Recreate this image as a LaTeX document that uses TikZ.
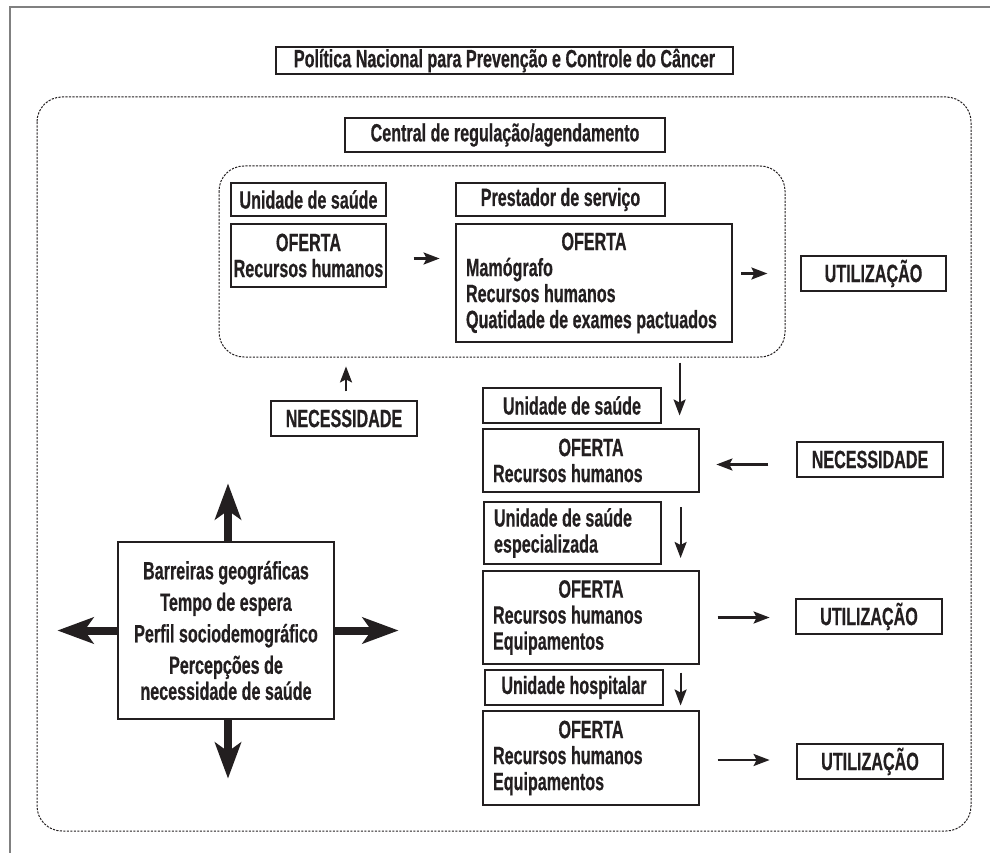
\documentclass[tikz,border=0pt]{standalone}
\usepackage{fontspec}
\setmainfont{Liberation Sans}[FakeStretch=0.645, BoldFeatures={FakeBold=0.5}]
\usetikzlibrary{arrows.meta,calc}
\definecolor{ink}{HTML}{231F20}
\tikzset{
  box/.style={draw=ink, line width=1.2pt, inner sep=0pt, text=ink,
    font=\fontsize{25}{26}\selectfont\bfseries, align=center},
  lbox/.style={box, align=flush left, text width=#1, inner xsep=10pt},
  dashframe/.style={draw=ink, line width=1pt, dash pattern=on 2.2pt off 1.3pt, rounded corners=25pt},
  arr/.style={ink, line width=2.2pt, -{Stealth[length=16pt,width=12pt,inset=3pt]}},
  bigarr/.style={ink, line width=8pt, -{Stealth[length=36pt,width=26pt,inset=9pt]}}
}
\begin{document}
\begin{tikzpicture}[x=1pt,y=-1pt]
  \useasboundingbox (0,0) rectangle (990,853);
  % Page frame
  \draw[black!50, line width=2pt] (990,7) -- (10,7) -- (10,853);

  % Dashed groups
  \draw[dashframe] (37,97) rectangle (971,831);
  \draw[dashframe] (219,166) rectangle (785,357);

  % Top boxes
  \node[box, minimum width=457pt, minimum height=27pt] (pol) at (504.5,60.5) {Política Nacional para Prevenção e Controle do Câncer};
  \node[box, minimum width=320pt, minimum height=34pt] (cen) at (505,135) {Central de regulação/agendamento};

  % Inside regulation
  \node[box, minimum width=155pt, minimum height=33pt] (usA) at (308.5,199.5) {Unidade de saúde};
  \node[box, minimum width=155pt, minimum height=63pt] (ofA) at (308.5,255.5) {OFERTA\\Recursos humanos};
  \node[box, minimum width=209pt, minimum height=33pt] (psB) at (560.5,199.5) {Prestador de serviço};
  \node[lbox=256pt, minimum height=118pt] (ofB) at (594,283)
    {\makebox[\hsize]{OFERTA}\\Mamógrafo\\Recursos humanos\\Quatidade de exames pactuados};
  \node[box, minimum width=145pt, minimum height=35pt] (ut1) at (873.5,273.5) {UTILIZAÇÃO};
  \node[box, minimum width=146pt, minimum height=35pt] (ne1) at (344,418.5) {NECESSIDADE};

  % Right column
  \node[box, minimum width=178pt, minimum height=35pt] (usC) at (572,405.5) {Unidade de saúde};
  \node[lbox=196pt, minimum height=63pt] (ofC) at (591,460.5) {\makebox[\hsize]{OFERTA}\\Recursos humanos};
  \node[box, minimum width=146pt, minimum height=35pt] (ne2) at (870,459.5) {NECESSIDADE};
  \node[lbox=157pt, minimum height=62pt] (esD) at (572.5,533) {Unidade de saúde\\especializada};
  \node[lbox=196pt, minimum height=93pt] (ofD) at (591,617.5) {\makebox[\hsize]{OFERTA}\\Recursos humanos\\Equipamentos};
  \node[box, minimum width=146pt, minimum height=35pt] (ut2) at (869,616.5) {UTILIZAÇÃO};
  \node[box, minimum width=178pt, minimum height=35pt] (hoE) at (574,687.5) {Unidade hospitalar};
  \node[lbox=196pt, minimum height=94pt] (ofE) at (591,758) {\makebox[\hsize]{OFERTA}\\Recursos humanos\\Equipamentos};
  \node[box, minimum width=146pt, minimum height=35pt] (ut3) at (870,761.5) {UTILIZAÇÃO};

  % Barriers
  \node[box, minimum width=216pt, minimum height=177pt] (bar) at (226,630.5)
    {Barreiras geográficas\\[5.5pt]Tempo de espera\\[5.5pt]Perfil sociodemográfico\\[5.5pt]Percepções de\\necessidade de saúde};

  % Arrows
  \draw[arr] ($(ofA.east)+(27,3)$) -- ($(ofA.east)+(53,3)$);
  \draw[arr] ($(ut1.west)+(-59,0)$) -- ($(ut1.west)+(-33,0)$);
  \draw[arr] ($(ne1.north)+(2,-9)$) -- ($(ne1.north)+(2,-34)$);
  \draw[arr] ($(usC.east)+(18,-43)$) -- ($(usC.east)+(18,10)$);
  \draw[arr] ($(ne2.west)+(-28,5)$) -- ($(ne2.west)+(-80,5)$);
  \draw[arr] ($(esD.east)+(19,-26)$) -- ($(esD.east)+(19,25)$);
  \draw[arr] ($(ofD.east)+(18,0)$) -- ($(ofD.east)+(70,0)$);
  \draw[arr] ($(hoE.east)+(17,-15)$) -- ($(hoE.east)+(17,18)$);
  \draw[arr] ($(ofE.east)+(18,2)$) -- ($(ofE.east)+(70,2)$);

  \draw[bigarr] ($(bar.north)+(2,0)$) -- ($(bar.north)+(2,-58)$);
  \draw[bigarr] ($(bar.south)+(2,0)$) -- ($(bar.south)+(2,59)$);
  \draw[bigarr] (bar.west) -- ($(bar.west)+(-60,0)$);
  \draw[bigarr] (bar.east) -- ($(bar.east)+(64,0)$);
\end{tikzpicture}
\end{document}
